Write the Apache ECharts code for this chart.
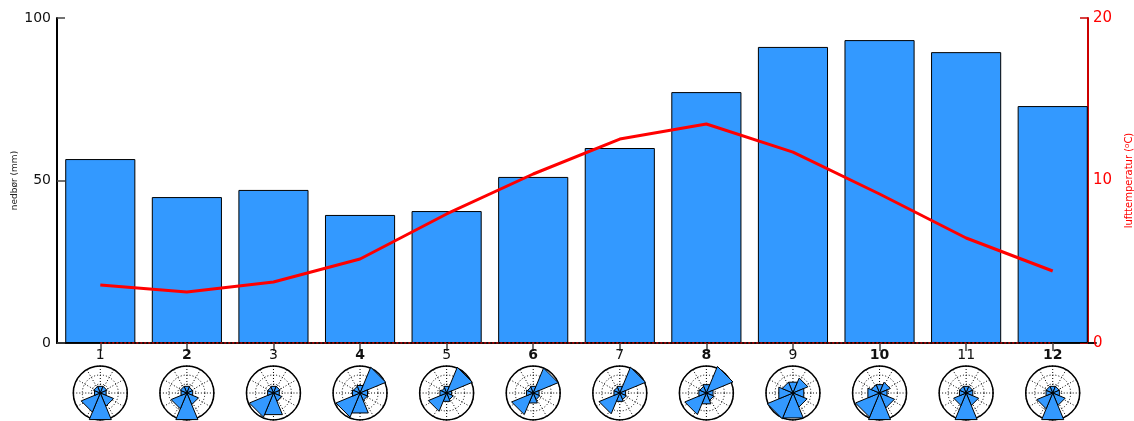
<!DOCTYPE html>
<html>
<head>
<meta charset="utf-8">
<script src="https://cdn.jsdelivr.net/npm/echarts@6/dist/echarts.min.js"></script>
<style>
  html, body { margin: 0; padding: 0; background: #fff; }
  #chart { width: 1134px; height: 421px; }
</style>
</head>
<body>
<div id="chart"></div>
<script>
// Monthly climate: precipitation bars, air temperature line, wind rose per month
const months = ['1', '2', '3', '4', '5', '6', '7', '8', '9', '10', '11', '12'];
const precipitation = [56.6, 44.9, 47.1, 39.4, 40.6, 51.1, 60.0, 77.2, 91.1, 93.2, 89.5, 72.9];
const temperature = [3.57, 3.14, 3.75, 5.17, 7.94, 10.4, 12.55, 13.48, 11.75, 9.17, 6.46, 4.43];
const temperatureBaseline = [0, 0, 0, 0, 0, 0, 0, 0, 0, 0, 0, 0];
const precipTicks = [0, 50, 100];
const tempTicks = [0, 10, 20];

// Wind rose sectors (degrees clockwise from north) and relative frequency per sector
const windDirections = [0, 45, 90, 135, 180, 225, 270, 315];
const wind1  = [0.8, 0.8, 0.7, 1.6, 3.2, 2.3, 0.7, 0.8];
const wind2  = [0.8, 0.7, 0.7, 1.4, 3.2, 1.9, 0.7, 0.8];
const wind3  = [0.8, 0.8, 0.7, 1.0, 2.6, 2.9, 0.7, 0.7];
const wind4  = [0.9, 3.1, 0.9, 0.9, 2.4, 2.9, 0.9, 0.8];
const wind5  = [0.8, 3.1, 0.6, 0.8, 1.0, 2.2, 0.8, 0.6];
const wind6  = [0.8, 3.0, 0.7, 0.8, 1.2, 2.6, 0.8, 0.7];
const wind7  = [0.8, 3.1, 0.7, 0.8, 1.0, 2.5, 0.7, 0.7];
const wind8  = [1.0, 3.2, 0.8, 0.9, 1.3, 2.6, 0.9, 0.8];
const wind9  = [1.3, 1.8, 1.3, 1.7, 3.0, 3.1, 1.7, 1.3];
const wind10 = [1.0, 1.3, 0.9, 1.8, 3.2, 2.9, 1.4, 1.0];
const wind11 = [0.8, 0.8, 0.8, 1.5, 3.2, 1.5, 0.8, 0.8];
const wind12 = [0.8, 0.8, 0.8, 1.5, 3.2, 1.9, 0.8, 0.8];
const windRoses = [wind1, wind2, wind3, wind4, wind5, wind6, wind7, wind8, wind9, wind10, wind11, wind12];

const FONT = 'DejaVu Sans';
const BLUE = '#3399ff';
const RED = '#ff0000';
const ROSE_Y = 393;
const ROSE_R = 27;
const SECTOR_HALF = 22.5;

const chart = echarts.init(document.getElementById('chart'), null, { renderer: 'canvas' });

function rosePolar(cx) {
  return { center: [cx, ROSE_Y], radius: [0, ROSE_R] };
}

const polars = [], angleAxes = [], radiusAxes = [], roseSeries = [];
windRoses.forEach((rose, i) => {
  polars.push(rosePolar(100 + i * 86.6));
  angleAxes.push({
    polarIndex: i, type: 'value', min: 0, max: 360, interval: 30,
    startAngle: 90, clockwise: true,
    axisLine: { show: true, lineStyle: { color: '#000', width: 1.5 } },
    axisTick: { show: false }, axisLabel: { show: false },
    splitLine: { show: true, lineStyle: { color: '#000', type: [1, 2], width: 1 } }
  });
  radiusAxes.push({
    polarIndex: i, type: 'value', min: 0, max: 3, interval: 1,
    axisLine: { show: false }, axisTick: { show: false }, axisLabel: { show: false },
    splitLine: { show: true, lineStyle: { color: '#000', type: [1, 2], width: 1 } }
  });
  roseSeries.push({
    type: 'custom', coordinateSystem: 'polar', polarIndex: i, z: 3,
    silent: true,
    data: windDirections.map((d, k) => [rose[k], d]),
    encode: { radius: 0, angle: 1 },
    renderItem: function (params, api) {
      const r = api.value(0), a = api.value(1);
      const c = api.coord([0, a]).slice(0, 2);
      const p1 = api.coord([r, a - SECTOR_HALF]).slice(0, 2);
      const p2 = api.coord([r, a + SECTOR_HALF]).slice(0, 2);
      return {
        type: 'polygon',
        shape: { points: [c, p1, p2] },
        style: { fill: BLUE, stroke: '#000', lineWidth: 1 }
      };
    }
  });
});

const option = {
  animation: false,
  backgroundColor: '#fff',
  textStyle: { fontFamily: FONT },
  grid: { left: 57, right: 38, top: 18, bottom: 78, containLabel: false, outerBoundsMode: 'none' },
  xAxis: [
    {
      type: 'category', data: months, position: 'bottom',
      axisLine: { show: true, lineStyle: { color: '#000', width: 1.5 } },
      axisTick: { show: false },
      axisLabel: {
        margin: 5, fontSize: 14, color: '#111', fontFamily: FONT,
        formatter: (v) => (Number(v) % 2 === 0 ? '{b|' + v + '}' : '{n|' + v + '}'),
        rich: {
          n: { fontSize: 14, color: '#111', fontFamily: FONT },
          b: { fontSize: 14, color: '#111', fontFamily: FONT, fontWeight: 'bold' }
        }
      },
      splitLine: { show: false }
    },
    {
      type: 'category', data: months, position: 'top',
      axisLine: { show: true, lineStyle: { color: '#000', width: 1.5 } },
      axisTick: { show: true, inside: true, alignWithLabel: true, length: 8, lineStyle: { color: '#444', width: 1.5 } },
      axisLabel: { show: false },
      splitLine: { show: false }
    }
  ],
  yAxis: [
    {
      type: 'value', min: precipTicks[0], max: precipTicks[precipTicks.length - 1], interval: precipTicks[1] - precipTicks[0],
      name: 'nedbør (mm)', nameLocation: 'middle', nameGap: 38, nameRotate: 90, nameMoveOverlap: false,
      nameTextStyle: { fontSize: 9, color: '#222', fontFamily: FONT },
      axisLine: { show: true, lineStyle: { color: '#000', width: 2 } },
      axisTick: { show: true, inside: true, length: 8, lineStyle: { color: '#444', width: 1.5 } },
      axisLabel: { fontSize: 14, color: '#111', margin: 6, fontFamily: FONT },
      splitLine: { show: false }
    },
    {
      type: 'value', position: 'right', offset: -8,
      min: tempTicks[0], max: tempTicks[tempTicks.length - 1], interval: tempTicks[1] - tempTicks[0],
      name: 'lufttemperatur ({sup|o}C)', nameLocation: 'middle', nameGap: 36, nameRotate: 90,
      nameTextStyle: {
        fontSize: 10, color: RED, fontFamily: FONT,
        rich: { sup: { fontSize: 7, color: RED, fontFamily: FONT, verticalAlign: 'top', lineHeight: 8 } }
      },
      axisLine: { show: true, lineStyle: { color: '#cc0000', width: 2 } },
      axisTick: { show: true, inside: true, length: 8, lineStyle: { color: '#cc0000', width: 1.5 } },
      axisLabel: { fontSize: 15, color: RED, margin: 5, fontFamily: FONT },
      splitLine: { show: false }
    }
  ],
  polar: polars,
  angleAxis: angleAxes,
  radiusAxis: radiusAxes,
  series: [
    {
      name: 'nedbør', type: 'bar', xAxisIndex: 0, yAxisIndex: 0,
      data: precipitation, barWidth: '81%',
      itemStyle: { color: BLUE, borderColor: '#000', borderWidth: 1 },
      z: 2
    },
    {
      name: 'baseline', type: 'line', xAxisIndex: 0, yAxisIndex: 1,
      data: temperatureBaseline, symbol: 'none', silent: true,
      lineStyle: { color: '#dd0000', width: 1.5, type: [2, 2] },
      z: 4
    },
    {
      name: 'lufttemperatur', type: 'line', xAxisIndex: 0, yAxisIndex: 1,
      data: temperature, symbol: 'none',
      lineStyle: { color: RED, width: 3 },
      z: 5
    }
  ].concat(roseSeries)
};

chart.setOption(option);

// Place each wind rose under its month using the category axis scale
const updatedPolars = months.map((m, i) => {
  const px = chart.convertToPixel({ xAxisIndex: 0 }, i);
  return rosePolar(px);
});
chart.setOption({ polar: updatedPolars });
</script>
</body>
</html>
